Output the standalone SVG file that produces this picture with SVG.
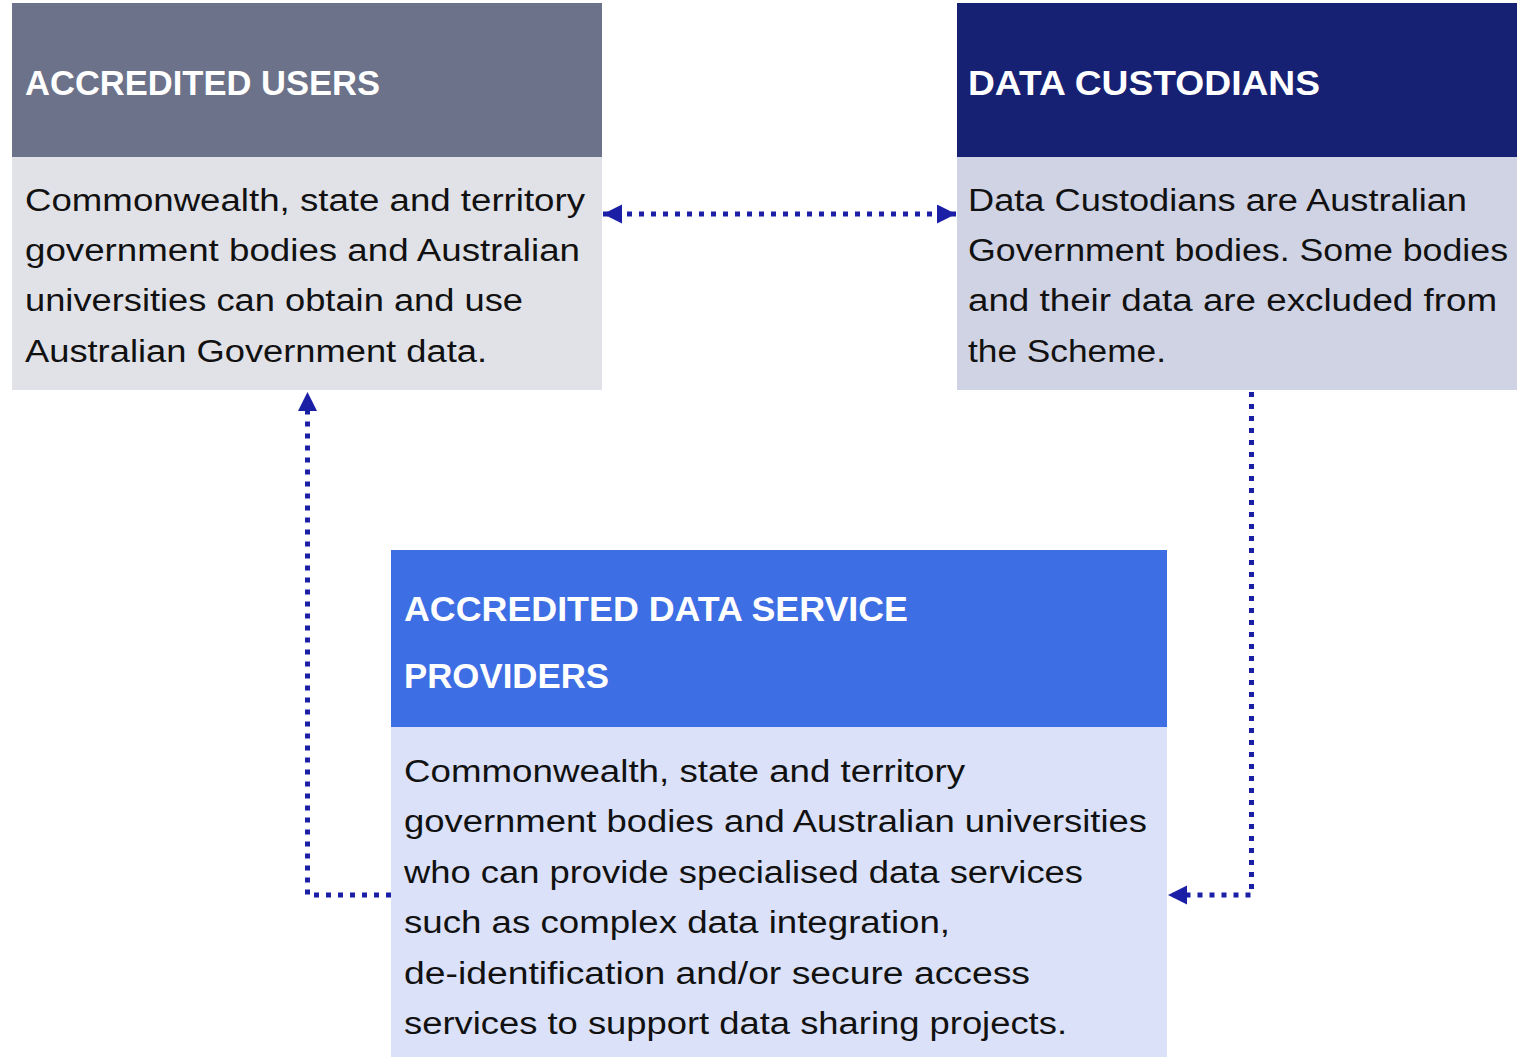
<svg xmlns="http://www.w3.org/2000/svg" width="1517" height="1058" viewBox="0 0 1517 1058">
<style>
.hd{font-family:"Liberation Sans",Arial,sans-serif;font-weight:bold;font-size:35px;fill:#ffffff}
.bd{font-family:"Liberation Sans",Arial,sans-serif;font-size:31px;fill:#111111}
.cn{fill:none;stroke:#1a1fa6;stroke-width:5;stroke-dasharray:5 7}
</style>
<defs>
<marker id="ah" markerUnits="userSpaceOnUse" markerWidth="20" markerHeight="20" refX="19" refY="9.5" orient="auto-start-reverse">
<path d="M0,0 L19,9.5 L0,19 Z" fill="#1a1fa6"/>
</marker>
</defs>
<rect width="1517" height="1058" fill="#ffffff"/>
<g id="accredited-users">
<rect x="12" y="3" width="590" height="154" fill="#6b7289"/>
<rect x="12" y="157" width="590" height="233" fill="#e1e2e8"/>
<text class="hd" x="25" y="95" textLength="355" lengthAdjust="spacingAndGlyphs">ACCREDITED USERS</text>
<text class="bd" x="25" y="211" textLength="560" lengthAdjust="spacingAndGlyphs">Commonwealth, state and territory</text>
<text class="bd" x="25" y="261" textLength="555" lengthAdjust="spacingAndGlyphs">government bodies and Australian</text>
<text class="bd" x="25" y="311" textLength="498" lengthAdjust="spacingAndGlyphs">universities can obtain and use</text>
<text class="bd" x="25" y="362" textLength="462" lengthAdjust="spacingAndGlyphs">Australian Government data.</text>
</g>
<g id="data-custodians">
<rect x="957" y="3" width="560" height="154" fill="#172173"/>
<rect x="957" y="157" width="560" height="233" fill="#d0d3e4"/>
<text class="hd" x="968" y="95" textLength="352" lengthAdjust="spacingAndGlyphs">DATA CUSTODIANS</text>
<text class="bd" x="968" y="211" textLength="499" lengthAdjust="spacingAndGlyphs">Data Custodians are Australian</text>
<text class="bd" x="968" y="261" textLength="540" lengthAdjust="spacingAndGlyphs">Government bodies. Some bodies</text>
<text class="bd" x="968" y="311" textLength="529" lengthAdjust="spacingAndGlyphs">and their data are excluded from</text>
<text class="bd" x="968" y="362" textLength="198" lengthAdjust="spacingAndGlyphs">the Scheme.</text>
</g>
<g id="accredited-data-service-providers">
<rect x="391" y="550" width="776" height="177" fill="#3e6ee3"/>
<rect x="391" y="727" width="776" height="330" fill="#dbe1f8"/>
<text class="hd" x="404" y="621" textLength="504" lengthAdjust="spacingAndGlyphs">ACCREDITED DATA SERVICE</text>
<text class="hd" x="404" y="688" textLength="205" lengthAdjust="spacingAndGlyphs">PROVIDERS</text>
<text class="bd" x="404" y="782" textLength="561" lengthAdjust="spacingAndGlyphs">Commonwealth, state and territory</text>
<text class="bd" x="404" y="832" textLength="743" lengthAdjust="spacingAndGlyphs">government bodies and Australian universities</text>
<text class="bd" x="404" y="883" textLength="679" lengthAdjust="spacingAndGlyphs">who can provide specialised data services</text>
<text class="bd" x="404" y="933" textLength="546" lengthAdjust="spacingAndGlyphs">such as complex data integration,</text>
<text class="bd" x="404" y="984" textLength="626" lengthAdjust="spacingAndGlyphs">de-identification and/or secure access</text>
<text class="bd" x="404" y="1034" textLength="663" lengthAdjust="spacingAndGlyphs">services to support data sharing projects.</text>
</g>
<g id="connectors">
<path class="cn" d="M603,214 L956,214" marker-start="url(#ah)" marker-end="url(#ah)"/>
<path class="cn" d="M391,895 L307.5,895 L307.5,392" marker-end="url(#ah)"/>
<path class="cn" d="M1251.5,392 L1251.5,895 L1168,895" marker-end="url(#ah)"/>
</g>
</svg>
